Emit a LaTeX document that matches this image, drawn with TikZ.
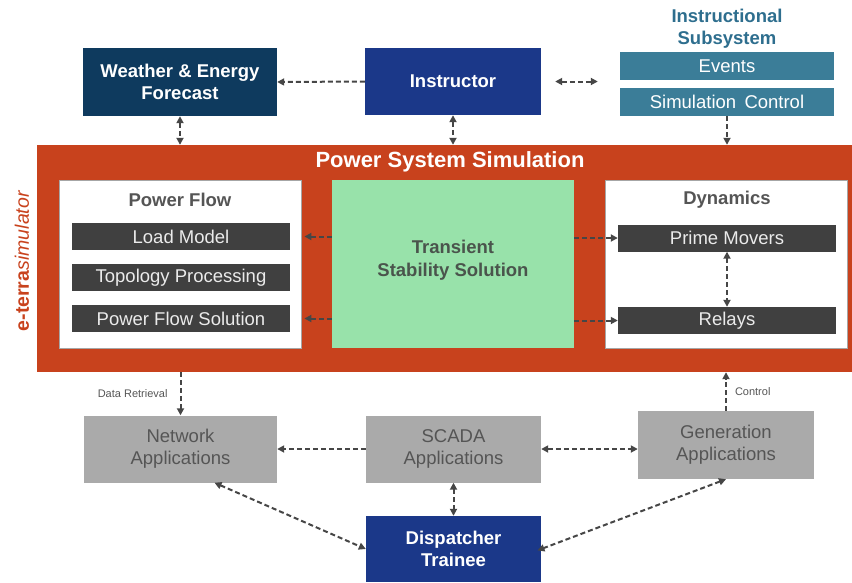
\documentclass[tikz,border=0pt]{standalone}
\usepackage{fontspec}
\setmainfont{Liberation Sans}
\usetikzlibrary{arrows.meta}
\definecolor{navy}{RGB}{14,58,94}
\definecolor{royal}{RGB}{27,56,137}
\definecolor{steel}{RGB}{59,125,152}
\definecolor{tealtxt}{RGB}{46,110,142}
\definecolor{simred}{RGB}{200,66,29}
\definecolor{mint}{RGB}{152,226,170}
\definecolor{barcol}{RGB}{64,64,64}
\definecolor{appgray}{RGB}{170,170,170}
\definecolor{apptxt}{RGB}{85,85,85}
\definecolor{arrcol}{RGB}{70,70,70}
\definecolor{tsgray}{RGB}{74,84,76}
\newcommand{\bigfont}{\fontsize{18.5}{22}\selectfont}
\tikzset{
  box/.style={inner sep=0pt, align=center, font=\bigfont},
  darkbox/.style={box, fill=#1, text=white, font=\bigfont\bfseries},
  barbox/.style={box, fill=barcol, text=white!92!black, minimum width=218pt, minimum height=27pt},
  panel/.style={fill=white, draw=gray!70, line width=0.8pt, minimum width=242pt, minimum height=168pt, inner sep=0pt},
  ptitle/.style={font=\bigfont\bfseries, text=apptxt, inner sep=0pt},
  app/.style={box, fill=appgray, text=apptxt},
  dar/.style={draw=arrcol, line width=2pt, dash pattern=on 5pt off 3pt, >={Triangle[length=7pt,width=7pt]}},
  small/.style={font=\fontsize{11}{13}\selectfont, text=apptxt, inner sep=0pt}
}
\begin{document}
\begin{tikzpicture}[x=1pt,y=-1pt]
\useasboundingbox (0,0) rectangle (852,582);
% top row
\node[darkbox=navy, minimum width=194pt, minimum height=68pt] (wx) at (180,82) {Weather \& Energy\\Forecast};
\node[darkbox=royal, minimum width=176pt, minimum height=67pt] (ins) at (453,81.5) {Instructor};
\node[font=\bigfont\bfseries, text=tealtxt, align=center, inner sep=0pt] (sub) at (727,29) {Instructional\\Subsystem};
\node[box, fill=steel, text=white, minimum width=214pt, minimum height=28pt] (ev) at (727,66) {Events};
\node[box, fill=steel, text=white, minimum width=214pt, minimum height=28pt] (sc) at (727,102) {Simulation\hspace{0.45em}Control};
% simulation block
\node[fill=simred, minimum width=815pt, minimum height=227pt, inner sep=0pt] (sim) at (444.5,258.5) {};
\node[text=white, font=\fontsize{22}{26}\selectfont\bfseries, inner sep=0pt] (simt) at (450,162) {Power System Simulation};
\node[rotate=90, text=simred, font=\fontsize{19.5}{22}\selectfont, inner sep=0pt] (et) at (22,261) {\textbf{e-terra}\textit{simulator}};
\node[panel] (pf) at (180,264) {};
\node[ptitle] (pft) at (180,200) {Power Flow};
\node[barbox] (load) at (181,236.5) {Load Model};
\node[barbox] (topo) at (181,277.5) {Topology Processing};
\node[barbox] (pfs) at (181,318.5) {Power Flow Solution};
\node[fill=mint, minimum width=242pt, minimum height=168pt, inner sep=0pt] (ts) at (453,264) {};
\node[font=\fontsize{18.5}{23}\selectfont\bfseries, text=tsgray, align=center, inner sep=0pt] (tst) at (453,260) {Transient\\Stability Solution};
\node[panel] (dyn) at (726,264) {};
\node[ptitle] (dynt) at (727,200) {Dynamics};
\node[barbox] (prime) at (727,238) {Prime Movers};
\node[barbox] (relays) at (727,320.5) {Relays};
% bottom row
\node[app, minimum width=193pt, minimum height=67pt] (net) at (180.5,449) {Network\\Applications};
\node[app, minimum width=175pt, minimum height=67pt] (scada) at (453.5,449) {SCADA\\Applications};
\node[app, minimum width=176pt, minimum height=68pt] (gen) at (726,445) {Generation\\Applications};
\node[darkbox=royal, minimum width=175pt, minimum height=66pt] (disp) at (453.5,549) {Dispatcher\\Trainee};
% connectors top
\draw[dar,->] (ins.west) -- (wx.east);
\draw[dar,<->,shorten <=14pt,shorten >=22pt] (ins.east) -- (ins.east -| ev.west);
\draw[dar,<->] (wx.south) -- (wx.south |- sim.north);
\draw[dar,<->] (ins.south) -- (ins.south |- sim.north);
\draw[dar,->] (sc.south) -- (sc.south |- sim.north);
% inside
\draw[dar,->,shorten >=3pt] (ts.west |- load) -- (pf.east |- load);
\draw[dar,->,shorten >=3pt] (ts.west |- pfs) -- (pf.east |- pfs);
\draw[dar,->] (ts.east |- prime) -- (prime.west);
\draw[dar,->] (ts.east |- relays) -- (relays.west);
\draw[dar,<->] (prime.south) -- (relays.north);
% bottom
\draw[dar,->] (net.north |- sim.south) -- (net.north) node[midway, left=12pt, small] {Data Retrieval};
\draw[dar,->] (gen.north) -- (gen.north |- sim.south) node[midway, right=8pt, small] {Control};
\draw[dar,->] (scada.west) -- (net.east);
\draw[dar,<->] (scada.east) -- (scada.east -| gen.west);
\draw[dar,<->] (scada.south) -- (disp.north);
\draw[dar,<->] ([xshift=34pt]net.south) -- (disp.west);
\draw[dar,<->,shorten >=-4pt] (gen.south) -- (disp.east);
\end{tikzpicture}
\end{document}
